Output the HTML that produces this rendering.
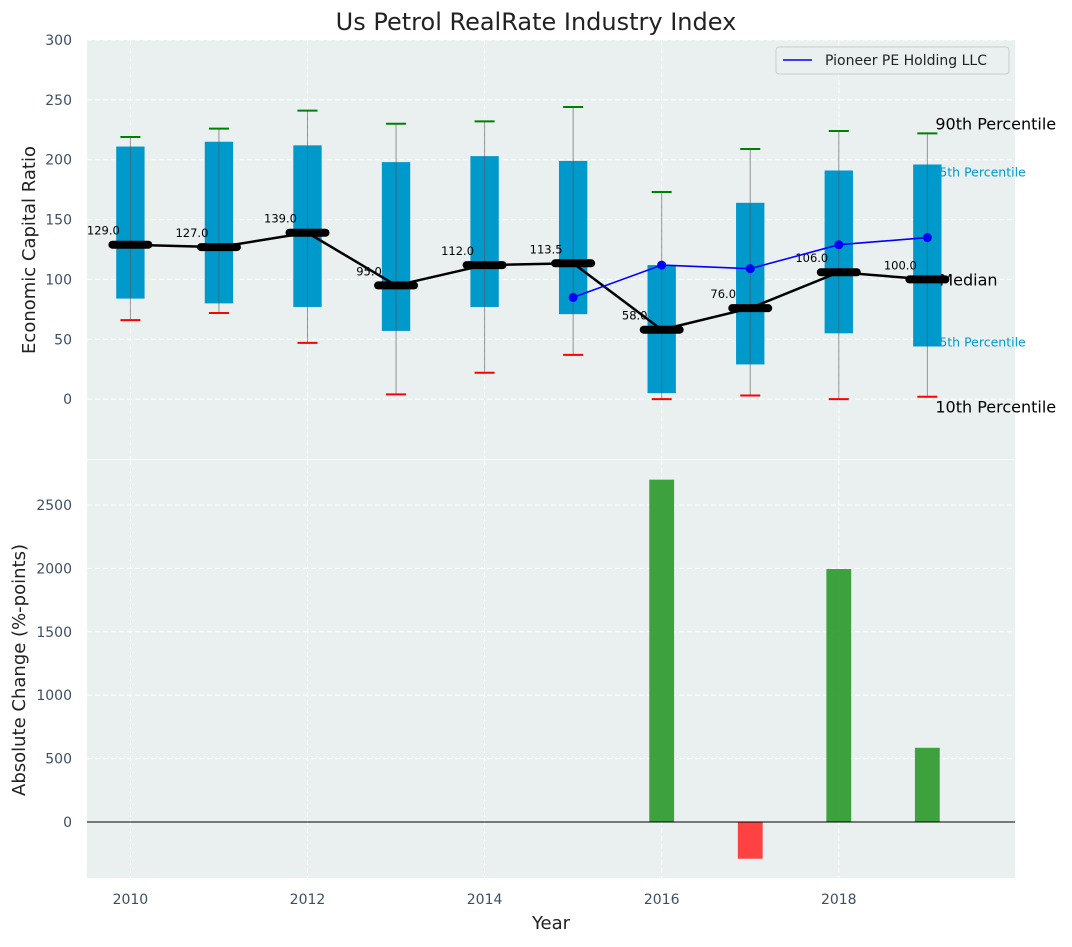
<!DOCTYPE html>
<html><head><meta charset="utf-8"><style>
body{margin:0;background:#fff;font-family:"Liberation Sans","DejaVu Sans",sans-serif}
svg text{font-family:"DejaVu Sans","Liberation Sans",sans-serif}
</style></head><body>
<svg id="c" width="1072" height="942" xmlns="http://www.w3.org/2000/svg"></svg>
<script>
const years=[2010,2011,2012,2013,2014,2015,2016,2017,2018,2019];
const p90=[219,226,241,230,232,244,173,209,224,222];
const p10=[66,72,47,4,22,37,0,3,0,2];
const p75=[211,215,212,198,203,199,112,164,191,196];
const p25=[84,80,77,57,77,71,5,29,55,44];
const median=[129,127,139,95,112,113.5,58,76,106,100];
const pioneerYears=[2015,2016,2017,2018,2019];
const pioneer=[85,112,109,129,135];
const changeYears=[2016,2017,2018,2019];
const changes=[2700,-290,1995,585];
const topTicks=[0,50,100,150,200,250,300];
const botTicks=[0,500,1000,1500,2000,2500];
const xTicks=[2010,2012,2014,2016,2018];

const NS="http://www.w3.org/2000/svg";const svg=document.getElementById('c');
function el(t,a,p){const e=document.createElementNS(NS,t);for(const k in a)e.setAttribute(k,a[k]);(p||svg).appendChild(e);return e;}
const L=87,R=1015;
const x=v=>L+(v-2009.51)*(R-L)/(2019.99-2009.51);
const T0=40,T1=459,B0=460,B1=878;
const yT=v=>T0+(300-v)*(T1-T0)/(300-(-50));
const yB=v=>B0+(2855-v)*(B1-B0)/(2855-(-442));

function panel(top,bot,ticks,yf,name){
  const g=el('g',{});
  el('rect',{x:L,y:top,width:R-L,height:bot-top,fill:'#eaeff0'},g);
  ticks.forEach(t=>{const yy=yf(t);el('line',{x1:L,x2:R,y1:yy,y2:yy,stroke:'#fff','stroke-dasharray':'5,3','stroke-width':1},g);
    const tx=el('text',{x:L-15,y:yy+5,'text-anchor':'end','font-size':14,fill:'#3d4f63'},g);tx.textContent=t;});
  xTicks.forEach(t=>el('line',{x1:x(t),x2:x(t),y1:top,y2:bot,stroke:'#fff','stroke-dasharray':'5,3'},g));
  return g;
}
const gt=panel(T0,T1,topTicks,yT,'top-panel');
const gb=panel(B0,B1,botTicks,yB,'bottom-panel');
xTicks.forEach(t=>{const tx=el('text',{x:x(t),y:904,'text-anchor':'middle','font-size':14,fill:'#3d4f63'});tx.textContent=t;});

years.forEach((yr,i)=>{
  const cx=x(yr),w=0.32*88.6;
  const b=el('rect',{x:cx-w/2,y:yT(p75[i]),width:w,height:yT(p25[i])-yT(p75[i]),fill:'#0099cc'});
  
  el('line',{x1:cx,x2:cx,y1:yT(p90[i]),y2:yT(p10[i]),stroke:'#555','stroke-opacity':0.6,'stroke-width':1});
  el('line',{x1:cx-10,x2:cx+10,y1:yT(p90[i]),y2:yT(p90[i]),stroke:'green','stroke-width':2});
  el('line',{x1:cx-10,x2:cx+10,y1:yT(p10[i]),y2:yT(p10[i]),stroke:'red','stroke-width':2});
});
el('polyline',{points:years.map((yr,i)=>x(yr)+','+yT(median[i])).join(' '),fill:'none',stroke:'#000','stroke-width':2.5,});
years.forEach((yr,i)=>{
  const cx=x(yr);
  el('line',{x1:cx-18,x2:cx+18,y1:yT(median[i]),y2:yT(median[i]),stroke:'#000','stroke-width':8,'stroke-linecap':'round'});
  const t=el('text',{x:cx-27,y:yT(median[i])-10,'text-anchor':'middle','font-size':11.5,fill:'#000'});t.textContent=median[i].toFixed(1);
});
el('polyline',{points:pioneerYears.map((yr,i)=>x(yr)+','+yT(pioneer[i])).join(' '),fill:'none',stroke:'blue','stroke-width':1.6,});
pioneerYears.forEach((yr,i)=>el('circle',{cx:x(yr),cy:yT(pioneer[i]),r:4.5,fill:'blue'}));
const X19=x(2019);
[['90th Percentile',X19+8,yT(222)-4,16,'#000'],['5th Percentile',X19+12,yT(190)+5,12.5,'#0099cc'],['Median',X19+12,yT(100)+6,16,'#000'],['5th Percentile',X19+12,yT(48)+5,12.5,'#0099cc'],['10th Percentile',X19+8,yT(-6)+6,16,'#000']].forEach(a=>{
  const t=el('text',{x:a[1],y:a[2],'font-size':a[3],fill:a[4]});t.textContent=a[0];
});
const lg=el('g',{});
el('rect',{x:776,y:47,width:233,height:27,fill:'#eaeff0',stroke:'#ccc',rx:3},lg);
el('line',{x1:783,x2:812,y1:60,y2:60,stroke:'blue','stroke-width':1.6},lg);
const lt=el('text',{x:825,y:65,'font-size':14,fill:'#222'},lg);lt.textContent='Pioneer PE Holding LLC';
changeYears.forEach((yr,i)=>{
  const w=0.28*88.6,v=changes[i];
  const r=el('rect',{x:x(yr)-w/2,y:Math.min(yB(v),yB(0)),width:w,height:Math.abs(yB(v)-yB(0)),fill:v>=0?'#2e9a2e':'#ff3333','fill-opacity':0.92});
  
});
el('line',{x1:L,x2:R,y1:yB(0),y2:yB(0),stroke:'#000','stroke-width':1});
let t=el('text',{x:536,y:30,'text-anchor':'middle','font-size':24,fill:'#222',});t.textContent='Us Petrol RealRate Industry Index';
t=el('text',{x:0,y:0,transform:'translate(35,250) rotate(-90)','text-anchor':'middle','font-size':18,fill:'#222',});t.textContent='Economic Capital Ratio';
t=el('text',{x:0,y:0,transform:'translate(25,670) rotate(-90)','text-anchor':'middle','font-size':18,fill:'#222',});t.textContent='Absolute Change (%-points)';
t=el('text',{x:551,y:929,'text-anchor':'middle','font-size':18,fill:'#222',});t.textContent='Year';
</script>
</body></html>
